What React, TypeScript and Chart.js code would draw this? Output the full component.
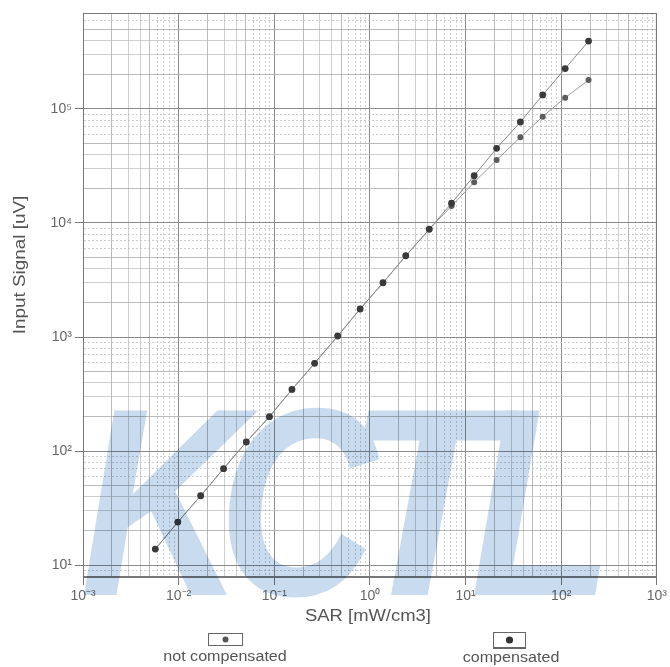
import React, { useEffect, useRef } from 'react';
import { Chart, registerables } from 'chart.js';

Chart.register(...registerables);

// ---- data ----
const sar = [0.0057, 0.0098, 0.017, 0.0295, 0.051, 0.089, 0.153, 0.264, 0.46, 0.79, 1.37, 2.37, 4.17, 7.13, 12.3, 21.1, 37.4, 64, 110, 193];
const compensated = [13.8, 23.8, 40.5, 70, 120, 200, 347, 588, 1020, 1760, 2990, 5160, 8810, 14900, 26000, 45200, 76900, 132800, 226000, 394000];
const notCompensated = [13.8, 23.8, 40.5, 70, 120, 200, 347, 588, 1020, 1760, 2990, 5160, 8810, 14100, 22800, 35700, 56500, 85700, 125600, 179500];
const seriesLabels = ['not compensated', 'compensated'];
const xTitle = 'SAR [mW/cm3]';
const yTitle = 'Input Signal [uV]';
const xRange = [1e-3, 1e3];
const yRange = [7.85, 6.95e5];
const watermark = ['K', 'C', 'T', 'L'];

const SUP: Record<string, string> = { '-': '\u207B', '0': '\u2070', '1': '\u00B9', '2': '\u00B2', '3': '\u00B3', '4': '\u2074', '5': '\u2075', '6': '\u2076', '7': '\u2077', '8': '\u2078', '9': '\u2079' };
const powLabel = (e: number) => '10' + String(e).split('').map((c) => SUP[c]).join('');

const lg = (v: number) => Math.log10(v);
const isDecade = (v?: number) => v !== undefined && Math.abs(lg(v) - Math.round(lg(v))) < 1e-9;
const sig = (v?: number) => {
  if (v === undefined) return 0;
  const e = Math.floor(lg(v) + 1e-9);
  return Math.round(v / Math.pow(10, e));
};

function logTicks(min: number, max: number) {
  const out: { value: number }[] = [];
  for (let e = Math.floor(lg(min)); e <= Math.ceil(lg(max)); e++) {
    for (let s = 1; s <= 9; s++) {
      const v = parseFloat((s * Math.pow(10, e)).toPrecision(6));
      if (v >= min * 0.9999 && v <= max * 1.0001) out.push({ value: v });
    }
  }
  return out;
}

const FONT = '"Liberation Sans", Arial, sans-serif';

function gridOpts() {
  return {
    color: (c: any) => {
      const s = sig(c.tick?.value);
      return s === 1 ? '#8a8a8a' : s === 5 || s === 2 ? '#a9a9a9' : '#c2c2c2';
    },
    lineWidth: (c: any) => (sig(c.tick?.value) === 1 ? 1 : 0.8),
    tickColor: (c: any) => (isDecade(c.tick?.value) ? '#777' : 'rgba(0,0,0,0)'),
    tickLength: 8,
  };
}
function borderOpts() {
  return {
    display: true,
    color: '#777',
    width: 1,
    dash: (c: any) => (c.tick && sig(c.tick.value) > 5 ? [2, 2] : []),
  };
}

function stretchedText(ctx: CanvasRenderingContext2D, text: string, x: number, y: number, sx: number) {
  ctx.save();
  ctx.translate(x, y);
  ctx.scale(sx, 1);
  ctx.fillText(text, 0, 0);
  ctx.restore();
}

const decor = {
  id: 'decor',
  afterDraw(chart: any) {
    const ctx = chart.ctx as CanvasRenderingContext2D;
    const a = chart.chartArea;
    ctx.save();
    // frame
    ctx.strokeStyle = '#777';
    ctx.lineWidth = 1;
    ctx.strokeRect(a.left + 0.5, a.top + 0.5, a.right - a.left - 1, a.bottom - a.top - 1);

    // axis titles
    ctx.fillStyle = '#555';
    ctx.font = `16px ${FONT}`;
    ctx.textAlign = 'center';
    ctx.textBaseline = 'middle';
    stretchedText(ctx, xTitle, (a.left + a.right) / 2 - 2, 617, 1.15);
    ctx.save();
    ctx.translate(21, 265);
    ctx.rotate(-Math.PI / 2);
    stretchedText(ctx, yTitle, 0, 0, 1.18);
    ctx.restore();

    // legend
    const items = [
      { cx: 225, box: [208, 633, 34, 12], r: 3, color: '#555', text: chart.data.datasets[0].label, ty: 657, thick: false },
      { cx: 511, box: [493, 632, 32, 15], r: 3.6, color: '#333', text: chart.data.datasets[1].label, ty: 658, thick: true },
    ];
    for (const it of items) {
      const [bx, by, bw, bh] = it.box;
      ctx.strokeStyle = '#666';
      ctx.lineWidth = 1;
      ctx.strokeRect(bx + 0.5, by + 0.5, bw, bh);
      if (it.thick) {
        ctx.lineWidth = 2;
        ctx.beginPath();
        ctx.moveTo(bx, by + bh + 1);
        ctx.lineTo(bx + bw + 1, by + bh + 1);
        ctx.stroke();
      }
      ctx.fillStyle = it.color;
      ctx.beginPath();
      ctx.arc(bx + bw / 2 + 0.5, by + bh / 2 + 0.5, it.r, 0, Math.PI * 2);
      ctx.fill();
      ctx.fillStyle = '#555';
      ctx.font = `14px ${FONT}`;
      stretchedText(ctx, it.text, it.cx, it.ty, 1.15);
    }

    // watermark: render opaque on an offscreen layer, then multiply once
    const off = document.createElement('canvas');
    off.width = chart.width;
    off.height = chart.height;
    const o = off.getContext('2d') as CanvasRenderingContext2D;
    o.fillStyle = 'rgb(201,219,238)';
    o.font = `italic bold 268px ${FONT}`;
    o.textAlign = 'left';
    o.textBaseline = 'alphabetic';
    const xs = [80, 218, 345, 470];
    const sxs = [0.85, 0.82, 0.95, 0.88];
    watermark.forEach((ch, i) => {
      o.save();
      o.translate(xs[i], 595);
      o.scale(sxs[i], 1);
      o.fillText(ch, 0, 0);
      o.restore();
    });
    ctx.globalCompositeOperation = 'multiply';
    ctx.drawImage(off, 0, 0);
    ctx.restore();
  },
};

export default function App() {
  const ref = useRef<HTMLCanvasElement | null>(null);
  useEffect(() => {
    if (!ref.current) return;
    const chart = new Chart(ref.current, {
      type: 'line',
      data: {
        datasets: [
          {
            label: seriesLabels[0],
            data: sar.map((x, i) => ({ x, y: notCompensated[i] })),
            borderColor: '#9a9a9a',
            borderWidth: 1,
            pointRadius: 3,
            pointBackgroundColor: '#5c5c5c',
            pointBorderColor: '#5c5c5c',
            pointBorderWidth: 0,
            tension: 0,
            order: 2,
          },
          {
            label: seriesLabels[1],
            data: sar.map((x, i) => ({ x, y: compensated[i] })),
            borderColor: '#8a8a8a',
            borderWidth: 1,
            pointRadius: 3.4,
            pointBackgroundColor: '#3a3a3a',
            pointBorderColor: '#3a3a3a',
            pointBorderWidth: 0,
            tension: 0,
            order: 1,
          },
        ],
      },
      options: {
        animation: false,
        responsive: false,
        events: [],
        layout: { padding: { left: 0, top: 13, right: 12, bottom: 39 } },
        plugins: { legend: { display: false }, tooltip: { enabled: false } },
        scales: {
          x: {
            type: 'logarithmic',
            min: xRange[0],
            max: xRange[1],
            afterBuildTicks: (s: any) => { s.ticks = logTicks(xRange[0], xRange[1]); },
            afterFit: (s: any) => { s.height = 51; },
            grid: gridOpts(),
            border: borderOpts(),
            ticks: {
              autoSkip: false,
              maxRotation: 0,
              padding: 3,
              color: '#666',
              font: { size: 14, family: FONT },
              callback: (v: any) => (isDecade(Number(v)) ? powLabel(Math.round(lg(Number(v)))) : ''),
            },
          },
          y: {
            type: 'logarithmic',
            min: yRange[0],
            max: yRange[1],
            afterBuildTicks: (s: any) => { s.ticks = logTicks(yRange[0], yRange[1]); },
            afterFit: (s: any) => { s.width = 83; },
            grid: gridOpts(),
            border: borderOpts(),
            ticks: {
              autoSkip: false,
              padding: 3,
              color: '#666',
              font: { size: 14, family: FONT },
              callback: (v: any) => (isDecade(Number(v)) ? powLabel(Math.round(lg(Number(v)))) : ''),
            },
          },
        },
      },
      plugins: [decor],
    } as any);
    return () => chart.destroy();
  }, []);
  return (
    <div style={{ position: 'fixed', left: 0, top: 0, width: 670, height: 667, background: '#fff' }}>
      <canvas ref={ref} width={670} height={667} />
    </div>
  );
}
